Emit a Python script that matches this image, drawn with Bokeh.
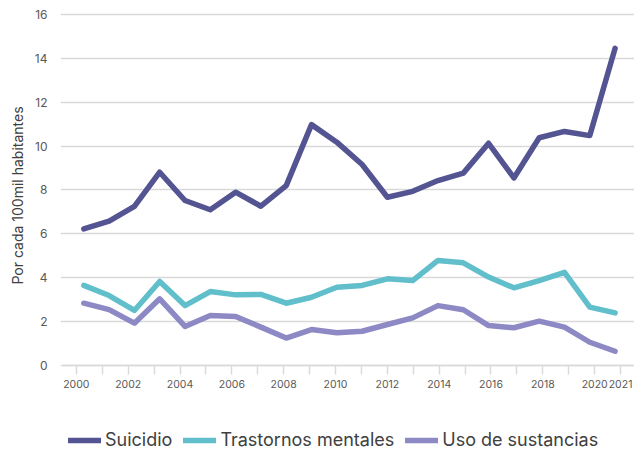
from bokeh.plotting import figure
from bokeh.models import (Range1d, FixedTicker, Legend, LegendItem, Title,
                          CustomJSTickFormatter)
from bokeh.embed import file_html
from bokeh.resources import INLINE

years = list(range(2000, 2022))
suicidio = [6.23, 6.58, 7.25, 8.81, 7.52, 7.10, 7.90, 7.26, 8.20, 10.98, 10.18,
            9.16, 7.67, 7.94, 8.43, 8.77, 10.13, 8.55, 10.38, 10.67, 10.48, 14.46]
trastornos = [3.65, 3.19, 2.51, 3.83, 2.73, 3.37, 3.22, 3.24, 2.84, 3.11, 3.57,
              3.65, 3.95, 3.87, 4.79, 4.68, 4.03, 3.54, 3.87, 4.25, 2.66, 2.40]
sustancias = [2.84, 2.55, 1.93, 3.04, 1.78, 2.28, 2.23, 1.75, 1.25, 1.64, 1.49,
              1.56, 1.87, 2.17, 2.73, 2.54, 1.82, 1.72, 2.02, 1.75, 1.06, 0.65]
series_names = ["Suicidio", "Trastornos mentales", "Uso de sustancias"]
colors = ["#535491", "#60BFCB", "#8D89C5"]
y_ticks = [0, 2, 4, 6, 8, 10, 12, 14, 16]
x_tick_labels = ["2000", "", "2002", "", "2004", "", "2006", "", "2008", "",
                 "2010", "", "2012", "", "2014", "", "2016", "", "2018", "",
                 "2020", "2021"]

FONT = "Inter"

# the source chart's tick marks sit on a slightly wider grid than its points
TICK_SHIFT, TICK_STEP = -0.294, 1.0243
x_tick_pos = [years[0] + TICK_SHIFT + TICK_STEP * i for i in range(len(years))]

p = figure(width=634, height=451, output_backend="svg", toolbar_location=None,
           x_range=Range1d(1999.079, 2021.767), y_range=Range1d(-3.92, 16.182),
           min_border_left=55, min_border_right=0, min_border_top=10,
           min_border_bottom=0)
p.outline_line_color = None
p.background_fill_color = "white"

# grid
p.xgrid.grid_line_color = None
p.ygrid.ticker = FixedTicker(ticks=y_ticks)
p.ygrid.bounds = (1999.471, 2021.532)
p.ygrid.grid_line_color = "#d9d9d9"
p.ygrid.grid_line_width = 1.4

# y axis
p.yaxis.ticker = FixedTicker(ticks=y_ticks)
p.yaxis.axis_line_color = None
p.yaxis.major_tick_line_color = None
p.yaxis.minor_tick_line_color = None
p.yaxis.major_label_text_font = FONT
p.yaxis.major_label_text_font_size = "12px"
p.yaxis.major_label_text_color = "#595959"
p.yaxis.major_label_standoff = 7

ytitle = Title(text="Por cada 100mil habitantes", align="left", offset=167,
               standoff=12, text_font=FONT, text_font_size="14px",
               text_font_style="normal", text_color="#404040")
p.add_layout(ytitle, "left")

# x axis drawn at y = 0
p.xaxis.fixed_location = 0
p.xaxis.bounds = (1999.158, 2021.728)
p.xaxis.ticker = FixedTicker(ticks=x_tick_pos)
p.xaxis.formatter = CustomJSTickFormatter(args=dict(labels=x_tick_labels),
                                          code="return labels[index];")
p.xaxis.axis_line_color = "#d9d9d9"
p.xaxis.axis_line_width = 1.4
p.xaxis.major_tick_line_color = "#d9d9d9"
p.xaxis.major_tick_line_width = 1.4
p.xaxis.major_tick_in = 0
p.xaxis.major_tick_out = 9
p.xaxis.minor_tick_line_color = None
p.xaxis.major_label_text_font = FONT
p.xaxis.major_label_text_font_size = "10.5px"
p.xaxis.major_label_text_color = "#595959"
p.xaxis.major_label_standoff = 5

items = []
for name, vals, c in zip(series_names, [suicidio, trastornos, sustancias], colors):
    r = p.line(years, vals, line_color=c, line_width=5.5,
               line_cap="round", line_join="round")
    items.append(LegendItem(label=name, renderers=[r]))

legend = Legend(items=items, orientation="horizontal", location=(8, 1),
                border_line_color=None, background_fill_alpha=0,
                padding=0, margin=0, spacing=11, label_standoff=4,
                glyph_width=33, glyph_height=20, label_height=20,
                label_text_font=FONT, label_text_font_size="18px",
                label_text_color="#404040")
p.add_layout(legend, "center")

open("out.html", "w").write(file_html(p, INLINE))
